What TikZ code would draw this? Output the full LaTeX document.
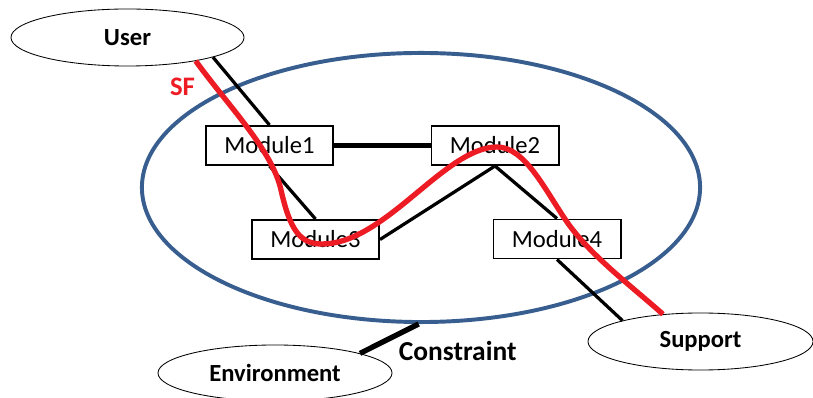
\documentclass[tikz,border=0pt]{standalone}
\usepackage{fontspec}
\setmainfont{Carlito}
\usetikzlibrary{shapes.geometric}
\definecolor{sysblue}{RGB}{56,94,143}
\definecolor{sfred}{RGB}{237,28,36}
\tikzset{
  module/.style={draw, fill=white, line width=1.4pt, minimum width=3.175cm,
    minimum height=0.975cm, inner sep=0pt, font=\fontsize{17.5}{20}\selectfont},
  actor/.style={draw, ellipse, line width=0.6pt, inner sep=0pt,
    font=\bfseries\fontsize{17.5}{20}\selectfont},
  link/.style={line width=2.3pt},
}
\begin{document}
\begin{tikzpicture}[x=0.025cm, y=-0.025cm]
      \useasboundingbox (0,0) rectangle (813,398);
      % system boundary
      \node[ellipse, draw=sysblue, line width=2.8pt, minimum width=13.95cm,
        minimum height=6.725cm] (system) at (421,187.5) {};
      \draw
        (127.5,37.5) node[actor, minimum width=5.825cm, minimum height=1.425cm] (user){User}
        (700.5,341.5) node[actor, minimum width=5.625cm, minimum height=1.425cm] (support){\raisebox{-2pt}{Support}}
        (275,373) node[actor, minimum width=5.85cm, minimum height=1.4cm] (env){Environment}
        (269.5,145.5) node[module] (m1){Module1}
        (495,145.5) node[module] (m2){Module2}
        (315.5,239.5) node[module] (m3){Module3}
        (557,239) node[module] (m4){Module4};
      \begin{scope}[link]
        \draw (user.-13.6) to (m1.north);
        \draw[line width=3.4pt] (m1.east) to (m2.west);
        \draw (m1.south) to (m3.north);
        \draw (m2.south) to (m3.east);
        \draw (m2.south) to (m4.north);
        \draw (m4.south) to (support.165);
        \draw[line width=3.8pt] (system.-91) to (env.13.5);
      \end{scope}
      \node[font=\bfseries\fontsize{19.5}{22}\selectfont, anchor=west] (constraint) at (394,351) {Constraint};
      % SF path
      \draw[sfred, line width=3.8pt]
        (user.-19) .. controls (230,108) and (272,150) .. (281,190)
        .. controls (290,230) and (300,244) .. (322,244)
        .. controls (385,244) and (445,147) .. (497,147)
        .. controls (525,147) and (545,190) .. (567,222)
        .. controls (590,255) and (630,285) .. (support.144);
      \node[text=sfred, font=\bfseries\fontsize{19}{22}\selectfont] (sf) at (182.5,86.5) {SF};
    \end{tikzpicture}
\end{document}
